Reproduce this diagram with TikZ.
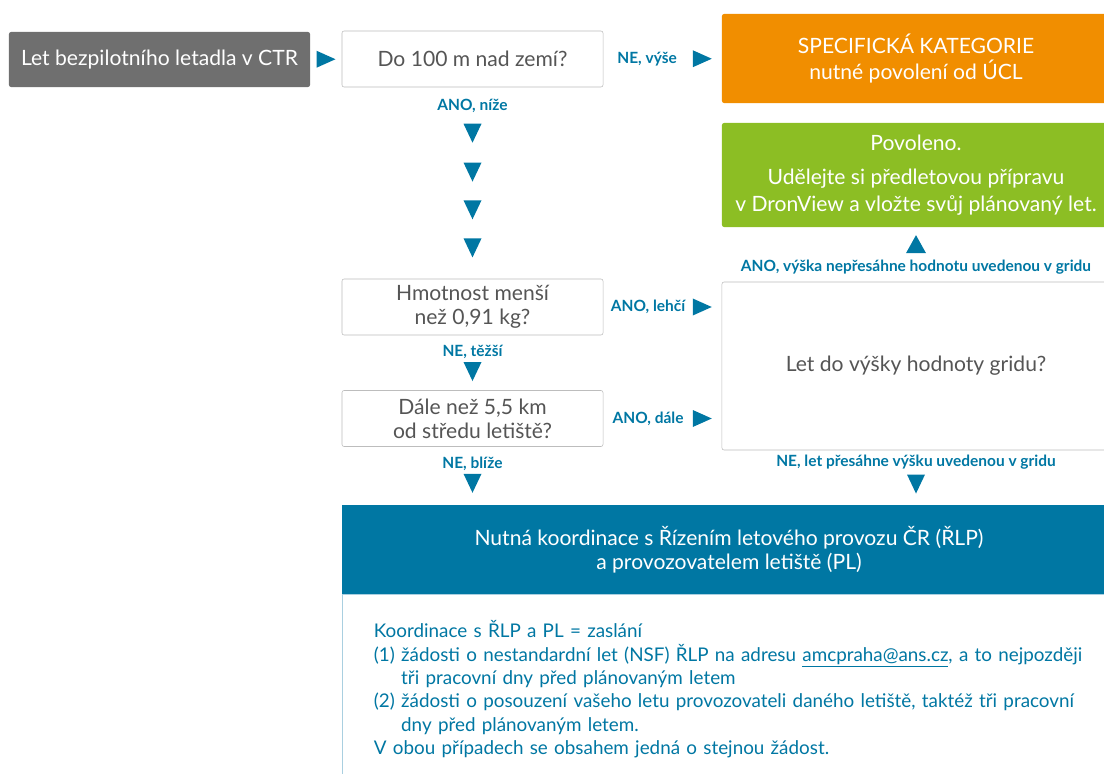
\documentclass[tikz,border=0pt]{standalone}
\usepackage{fontspec}
\setmainfont{Lato}
\usepackage{tikz}
\usetikzlibrary{positioning}
\definecolor{ctr-seda}{HTML}{6F6F6F}
\definecolor{ctr-modra}{HTML}{0077A3}
\definecolor{ctr-oranzova}{HTML}{F18E00}
\definecolor{ctr-zelena}{HTML}{8CBE24}
\definecolor{ctr-text}{HTML}{555555}
\definecolor{ctr-ramecek}{HTML}{BDBDBD}
\definecolor{ctr-linka}{HTML}{A9CFE0}

\tikzset{
    box/.style={draw=ctr-ramecek, fill=white, rounded corners=1.5pt, align=center,
        text=ctr-text, inner sep=0pt, font=\fontsize{15}{17}\selectfont},
    barva/.style={fill=#1, text=white, rounded corners=1.5pt, align=center,
        inner sep=0pt, font=\fontsize{15}{18}\selectfont},
    popis/.style={text=ctr-modra, inner sep=0pt, font=\bfseries\fontsize{11}{13}\selectfont},
    tri down/.pic={\fill[ctr-modra] (-9,-9.5) -- (9,-9.5) -- (0,9.5) -- cycle;},
    tri up/.pic={\fill[ctr-modra] (-10,9) -- (10,9) -- (0,-9) -- cycle;},
    tri right/.pic={\fill[ctr-modra] (-9.5,-8.5) -- (-9.5,8.5) -- (9.5,0) -- cycle;}
}

\begin{document}
\begin{tikzpicture}[x=0.025cm, y=-0.025cm]

    \useasboundingbox (0,0) rectangle (1104,774);

    % start
    \node[barva=ctr-seda, minimum width=7.525cm, minimum height=1.375cm] (start) at (159.5,59.5) {Let bezpilotního letadla v CTR};

    % questions
    \begin{scope}[every node/.style={box, minimum width=6.525cm, minimum height=1.4cm}]
        \node (q1) at (472.5,59) {Do 100 m nad zemí?};
        \node (q2) at (472.5,307) {Hmotnost menší\\ než 0,91 kg?};
        \node (q3) at (472.5,418.5) {Dále než 5,5 km\\ od středu letiště?};
    \end{scope}
    \node[box, minimum width=9.7cm, minimum height=4.2cm] (q4) at (916,366) {Let do výšky hodnoty gridu?};

    % results
    \node[barva=ctr-oranzova, minimum width=9.7cm, minimum height=2.225cm] (spec) at (916,58.5) {SPECIFICKÁ KATEGORIE\\ nutné povolení od ÚCL};
    \node[barva=ctr-zelena, minimum width=9.7cm, minimum height=2.6cm, font=\fontsize{15}{19}\selectfont] (ok) at (916,175) {Povoleno.\\[5pt] Udělejte si předletovou přípravu\\ v DronView a vložte svůj plánovaný let.};
    \node[barva=ctr-modra, rounded corners=0pt, minimum width=19.35cm, minimum height=2.225cm, font=\fontsize{15}{17}\selectfont] (koord) at (729,549.5) {Nutná koordinace s Řízením letového provozu ČR (ŘLP)\\ a provozovatelem letiště (PL)};

    % details
    \node[anchor=north west, draw=ctr-linka, fill=white, text width=18.5cm, align=left,
          inner xsep=0.8cm, inner ysep=0.65cm, text=ctr-modra,
          font=\fontsize{13.4}{16.6}\selectfont] (info) at (koord.south west) {%
        Koordinace s ŘLP a PL = zaslání\\
        (1)~žádosti o nestandardní let (NSF) ŘLP na adresu \underline{amcpraha@ans.cz}, a to nejpozději\\
        \phantom{(1)}~tři pracovní dny před plánovaným letem\\
        (2)~žádosti o posouzení vašeho letu provozovateli daného letiště, taktéž tři pracovní\\
        \phantom{(2)}~dny před plánovaným letem.\\
        V obou případech se obsahem jedná o stejnou žádost.};

    % arrows
    \path (start) -- (q1) pic[midway] {tri right};
    \path (q1) -- (spec) node[popis, pos=0.37] (l1) {NE, výše} pic[pos=0.836] {tri right};
    \path (q1) -- (q2) node[popis, pos=0.099] (l2) {ANO, níže}
        pic[pos=0.24] {tri down} pic[pos=0.443] {tri down}
        pic[pos=0.64] {tri down} pic[pos=0.839] {tri down};
    \path (q2.east) -- (q2.east -| q4.west) node[popis, pos=0.378] (l3) {ANO, lehčí} pic[pos=0.836] {tri right};
    \path (q3.east) -- (q3.east -| q4.west) node[popis, pos=0.378] (l4) {ANO, dále} pic[pos=0.836] {tri right};
    \path (q2) -- (q3) node[popis, pos=0.30] (l5) {NE, těžší} pic[pos=0.66] {tri down};
    \path (q3) -- (q3 |- koord.north) node[popis, pos=0.29] (l6) {NE, blíže} pic[pos=0.63] {tri down};
    \path (q4) -- (ok) node[popis, pos=0.27] (l7) {ANO, výška nepřesáhne hodnotu uvedenou v gridu} pic[pos=0.69] {tri up};
    \path (q4) -- (q4 |- koord.north) node[popis, pos=0.22] (l8) {NE, let přesáhne výšku uvedenou v gridu} pic[pos=0.62] {tri down};

\end{tikzpicture}
\end{document}
